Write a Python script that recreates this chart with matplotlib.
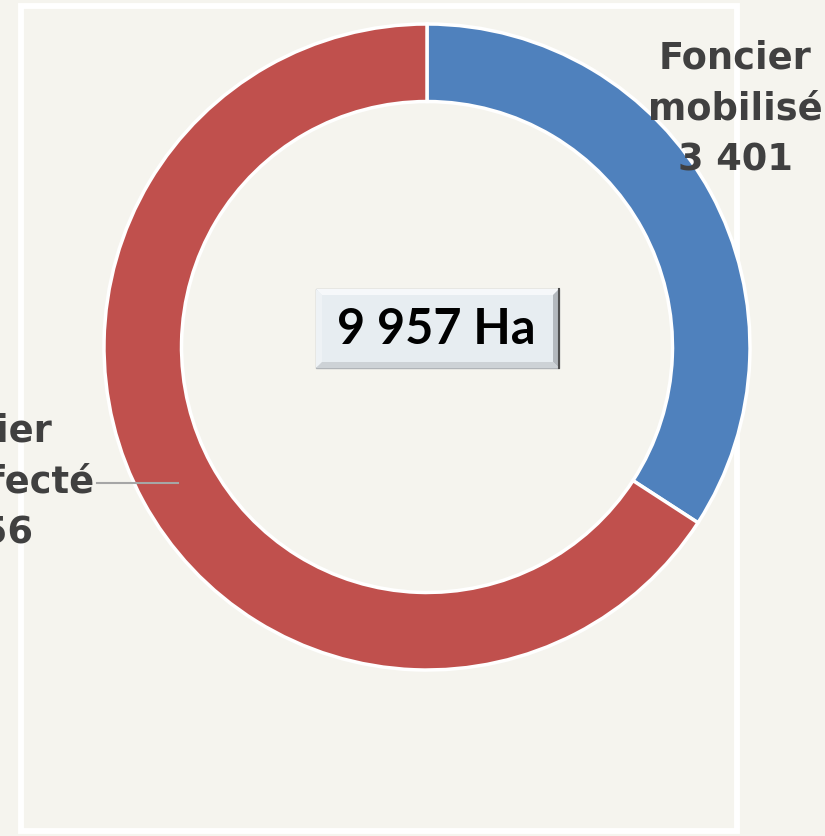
import matplotlib
matplotlib.use("Agg")
import matplotlib.pyplot as plt
from matplotlib.patches import Rectangle, Polygon

categories = ["Foncier\nmobilisé", "Foncier\nnon affecté"]
values = [3401, 6556]
value_labels = ["3 401", "6 556"]
total_label = "9 957 Ha"
colors = ["#4f81bd", "#c0504d"]

W, H = 825, 836
fig = plt.figure(figsize=(W / 100, H / 100), dpi=100)
bg = "#f5f4ee"
fig.patch.set_facecolor(bg)
ax = fig.add_axes([0, 0, 1, 1])
ax.set_xlim(0, W)
ax.set_ylim(0, H)
ax.set_aspect("equal")
ax.axis("off")

def Y(py):
    return H - py

# outer white frame
ax.add_patch(Rectangle((21, Y(831)), 716, 825, facecolor=bg, edgecolor="white", lw=4.2, zorder=0))

cx, cy, R = 427, Y(347), 323
ax.pie(values, colors=colors, startangle=90, counterclock=False, radius=R, center=(cx, cy),
       wedgeprops=dict(width=R * 0.24, edgecolor="white", linewidth=2.5), frame=True)
ax.set_xlim(0, W)
ax.set_ylim(0, H)
ax.axis("off")

font = ["DejaVu Sans"]
tc = "#404040"
fs = 26.5
ls = 1.48
# right label
ax.text(735, Y(109), categories[0] + "\n" + value_labels[0], ha="center", va="center",
        fontsize=fs, fontweight="bold", color=tc, family=font, linespacing=ls, zorder=5)
# left label
ax.text(-24, Y(482), categories[1] + "\n" + value_labels[1], ha="center", va="center",
        fontsize=fs, fontweight="bold", color=tc, family=font, linespacing=ls, zorder=5)
ax.plot([97, 178], [Y(483), Y(483)], color="#a6a6a6", lw=1.5, zorder=4)

# center box with bevel
x0, x1, y0, y1 = 316, 559, Y(368), Y(289)
b = 6
ax.add_patch(Rectangle((x0, y0), x1 - x0, y1 - y0, facecolor="#e7edf1", edgecolor="#b0b4b8", lw=1, zorder=6))
ax.add_patch(Polygon([(x0, y1), (x1, y1), (x1 - b, y1 - b), (x0 + b, y1 - b)], closed=True,
                     facecolor="#f6f8fa", edgecolor="none", zorder=7))
ax.add_patch(Polygon([(x0, y0), (x0, y1), (x0 + b, y1 - b), (x0 + b, y0 + b)], closed=True,
                     facecolor="#eef2f5", edgecolor="none", zorder=7))
ax.add_patch(Polygon([(x1, y0), (x1, y1), (x1 - b, y1 - b), (x1 - b, y0 + b)], closed=True,
                     facecolor="#b4b9be", edgecolor="none", zorder=7))
ax.add_patch(Polygon([(x0, y0), (x1, y0), (x1 - b, y0 + b), (x0 + b, y0 + b)], closed=True,
                     facecolor="#cdd2d6", edgecolor="none", zorder=7))
ax.plot([x1, x1], [y0, y1], color="#505050", lw=1.5, zorder=8)
ax.text((x0 + x1) / 2 - 1, (y0 + y1) / 2 - 1, total_label, ha="center", va="center", fontsize=35,
        fontweight="bold", color="black", family=["Lato", "DejaVu Sans"], zorder=9)

fig.savefig("out.png", dpi=100, facecolor=bg)
